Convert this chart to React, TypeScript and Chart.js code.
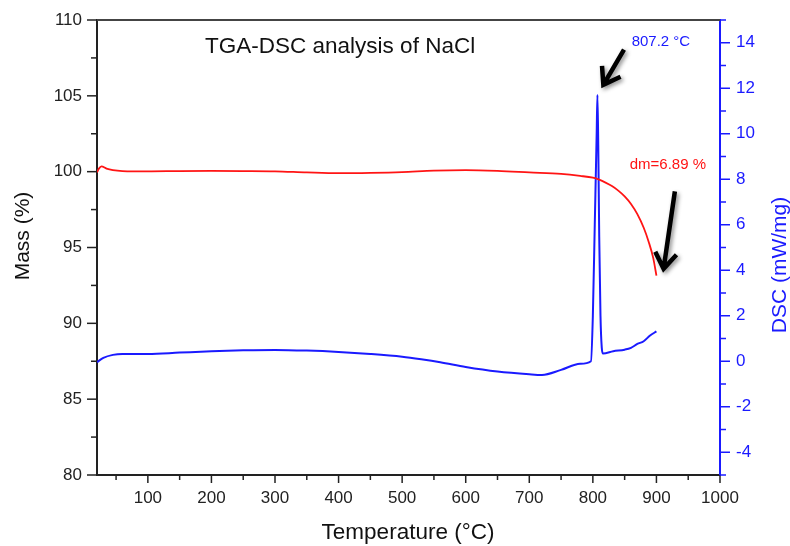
import React, { useEffect, useRef } from "react";
import { Chart, registerables } from "chart.js";

Chart.register(...registerables);

// Mass (TGA) curve
const massT = [20, 23, 27, 35, 45, 60, 100, 150, 200, 250, 300, 350, 400, 450, 500, 550, 600, 650, 700, 750, 780, 800, 810, 820, 830, 840, 850, 860, 870, 880, 888, 895, 900];
const massV = [99.95, 100.2, 100.35, 100.2, 100.1, 100.04, 100.02, 100.04, 100.05, 100.04, 100.02, 99.95, 99.9, 99.92, 99.97, 100.07, 100.1, 100.05, 99.95, 99.85, 99.72, 99.6, 99.47, 99.28, 99.05, 98.75, 98.37, 97.87, 97.2, 96.3, 95.35, 94.3, 93.15];

// DSC curve
const dscT = [20, 30, 45, 60, 100, 150, 200, 250, 300, 350, 400, 450, 500, 530, 560, 600, 650, 700, 720, 750, 780, 797, 800, 803, 806, 807.2, 808.5, 810, 812, 814, 816, 832, 850, 860, 870, 880, 890, 900];
const dscV = [-0.04, 0.15, 0.28, 0.32, 0.32, 0.38, 0.44, 0.48, 0.5, 0.47, 0.41, 0.32, 0.2, 0.09, -0.04, -0.25, -0.45, -0.57, -0.6, -0.38, -0.11, 0.0, 2.0, 6.0, 10.0, 11.7, 9.5, 5.5, 2.0, 0.6, 0.34, 0.44, 0.51, 0.59, 0.76, 0.88, 1.13, 1.31];

const xTicks = [50, 100, 150, 200, 250, 300, 350, 400, 450, 500, 550, 600, 650, 700, 750, 800, 850, 900, 950, 1000];
const massTicks = [80, 82.5, 85, 87.5, 90, 92.5, 95, 97.5, 100, 102.5, 105, 107.5, 110];
const dscTicks = [-5, -4, -3, -2, -1, 0, 1, 2, 3, 4, 5, 6, 7, 8, 9, 10, 11, 12, 13, 14, 15];

const titleText = "TGA-DSC analysis of NaCl";
const xTitle = "Temperature (°C)";
const yTitle = "Mass (%)";
const y1Title = "DSC (mW/mg)";
const peakLabel = "807.2 °C";
const dmLabel = "dm=6.89 %";

const FONT = "'Liberation Sans', Arial, sans-serif";
const BLUE = "#1a1aff";
const RED = "#ff1414";
const DARK = "#222222";

const overlay = {
  id: "overlay",
  afterDraw(chart: any) {
    const { ctx, chartArea, scales } = chart;
    const xs = scales.x, ys = scales.y, y1 = scales.y1;
    ctx.save();
    // top border
    ctx.strokeStyle = "#444";
    ctx.lineWidth = 2;
    ctx.beginPath();
    ctx.moveTo(chartArea.left, chartArea.top);
    ctx.lineTo(chartArea.right, chartArea.top);
    ctx.stroke();

    // tick marks
    ctx.lineWidth = 1.5;
    ctx.strokeStyle = DARK;
    xs.ticks.forEach((t: any) => {
      const px = xs.getPixelForValue(t.value);
      const len = t.value % 100 === 0 ? 8 : 5;
      ctx.beginPath();
      ctx.moveTo(px, chartArea.bottom);
      ctx.lineTo(px, chartArea.bottom + len);
      ctx.stroke();
    });
    ys.ticks.forEach((t: any) => {
      const py = ys.getPixelForValue(t.value);
      const len = t.value % 5 === 0 ? 10 : 6;
      ctx.beginPath();
      ctx.moveTo(chartArea.left, py);
      ctx.lineTo(chartArea.left - len, py);
      ctx.stroke();
    });
    ctx.strokeStyle = BLUE;
    y1.ticks.forEach((t: any) => {
      const py = y1.getPixelForValue(t.value);
      const len = Math.abs(t.value) % 2 === 0 ? 10 : 6;
      ctx.beginPath();
      ctx.moveTo(chartArea.right, py);
      ctx.lineTo(chartArea.right + len, py);
      ctx.stroke();
    });

    // titles
    ctx.fillStyle = "#111";
    ctx.font = `22.5px ${FONT}`;
    ctx.textAlign = "left";
    ctx.textBaseline = "alphabetic";
    ctx.fillText(titleText, xs.getPixelForValue(190), ys.getPixelForValue(107.85));

    ctx.textAlign = "center";
    ctx.fillText(xTitle, 408, 539);

    ctx.font = `21px ${FONT}`;
    ctx.save();
    ctx.translate(29, 236);
    ctx.rotate(-Math.PI / 2);
    ctx.fillText(yTitle, 0, 0);
    ctx.restore();

    ctx.save();
    ctx.fillStyle = BLUE;
    ctx.translate(786, 265);
    ctx.rotate(-Math.PI / 2);
    ctx.fillText(y1Title, 0, 0);
    ctx.restore();

    // annotations text
    ctx.textAlign = "left";
    ctx.font = `15px ${FONT}`;
    ctx.fillStyle = BLUE;
    ctx.fillText(peakLabel, xs.getPixelForValue(861), y1.getPixelForValue(13.87));
    ctx.fillStyle = RED;
    ctx.fillText(dmLabel, xs.getPixelForValue(858), ys.getPixelForValue(100.18));

    // arrows
    const arrow = (x0: number, y0: number, x1: number, y1p: number) => {
      ctx.save();
      ctx.strokeStyle = "#000";
      ctx.lineWidth = 4.5;
      ctx.lineCap = "butt";
      ctx.lineJoin = "miter";
      ctx.shadowColor = "rgba(0,0,0,0.45)";
      ctx.shadowBlur = 4;
      ctx.shadowOffsetX = 2;
      ctx.shadowOffsetY = 2;
      const ang = Math.atan2(y1p - y0, x1 - x0);
      const wing = 19;
      const spread = 0.6;
      ctx.beginPath();
      ctx.moveTo(x0, y0);
      ctx.lineTo(x1, y1p);
      ctx.moveTo(x1 - wing * Math.cos(ang - spread), y1p - wing * Math.sin(ang - spread));
      ctx.lineTo(x1, y1p);
      ctx.lineTo(x1 - wing * Math.cos(ang + spread), y1p - wing * Math.sin(ang + spread));
      ctx.stroke();
      ctx.restore();
    };
    arrow(xs.getPixelForValue(849), y1.getPixelForValue(13.7), xs.getPixelForValue(816.5), y1.getPixelForValue(12.15));
    arrow(xs.getPixelForValue(929), ys.getPixelForValue(98.7), xs.getPixelForValue(911.3), ys.getPixelForValue(93.6));
    ctx.restore();
  },
};

export default function App() {
  const ref = useRef<HTMLCanvasElement | null>(null);
  useEffect(() => {
    document.body.style.margin = "0";
    const canvas = ref.current!;
    const chart = new Chart(canvas, {
      type: "line",
      data: {
        datasets: [
          {
            label: "Mass",
            data: massT.map((t, i) => ({ x: t, y: massV[i] })),
            borderColor: RED,
            borderWidth: 1.8,
            pointRadius: 0,
            cubicInterpolationMode: "monotone",
            yAxisID: "y",
          },
          {
            label: "DSC",
            data: dscT.map((t, i) => ({ x: t, y: dscV[i] })),
            borderColor: BLUE,
            borderWidth: 2,
            pointRadius: 0,
            cubicInterpolationMode: "monotone",
            yAxisID: "y1",
          },
        ],
      },
      options: {
        animation: false,
        responsive: false,
        devicePixelRatio: 1,
        layout: { padding: { top: 20, left: 0, right: 0, bottom: 0 } },
        plugins: { legend: { display: false }, tooltip: { enabled: false } },
        scales: {
          x: {
            type: "linear",
            min: 20,
            max: 1000,
            afterBuildTicks: (s: any) => { s.ticks = xTicks.map((v) => ({ value: v })); },
            afterFit: (s: any) => { s.height = 71; },
            grid: { display: false, drawTicks: true, tickLength: 8 },
            border: { display: true, color: DARK, width: 2 },
            ticks: {
              autoSkip: false,
              maxRotation: 0,
              padding: 5,
              color: DARK,
              font: { family: FONT, size: 17 },
              callback: (v: any) => (Number(v) % 100 === 0 ? String(v) : ""),
            },
          },
          y: {
            type: "linear",
            position: "left",
            min: 80,
            max: 110,
            afterBuildTicks: (s: any) => { s.ticks = massTicks.map((v) => ({ value: v })); },
            afterFit: (s: any) => { s.width = 97; },
            grid: { display: false, drawTicks: true, tickLength: 10 },
            border: { display: true, color: DARK, width: 2 },
            ticks: {
              autoSkip: false,
              padding: 5,
              color: DARK,
              font: { family: FONT, size: 17 },
              callback: (v: any) => (Number(v) % 5 === 0 ? String(v) : ""),
            },
          },
          y1: {
            type: "linear",
            position: "right",
            min: -5,
            max: 15,
            afterBuildTicks: (s: any) => { s.ticks = dscTicks.map((v) => ({ value: v })); },
            afterFit: (s: any) => { s.width = 70; },
            grid: { display: false, drawTicks: true, tickLength: 10 },
            border: { display: true, color: BLUE, width: 2 },
            ticks: {
              autoSkip: false,
              padding: 6,
              color: BLUE,
              font: { family: FONT, size: 17 },
              callback: (v: any) => (Math.abs(Number(v)) % 2 === 0 ? String(v) : ""),
            },
          },
        },
      },
      plugins: [overlay],
    } as any);
    return () => chart.destroy();
  }, []);
  return (
    <div style={{ width: 790, height: 546, background: "#fff" }}>
      <canvas ref={ref} width={790} height={546} style={{ display: "block" }} />
    </div>
  );
}
